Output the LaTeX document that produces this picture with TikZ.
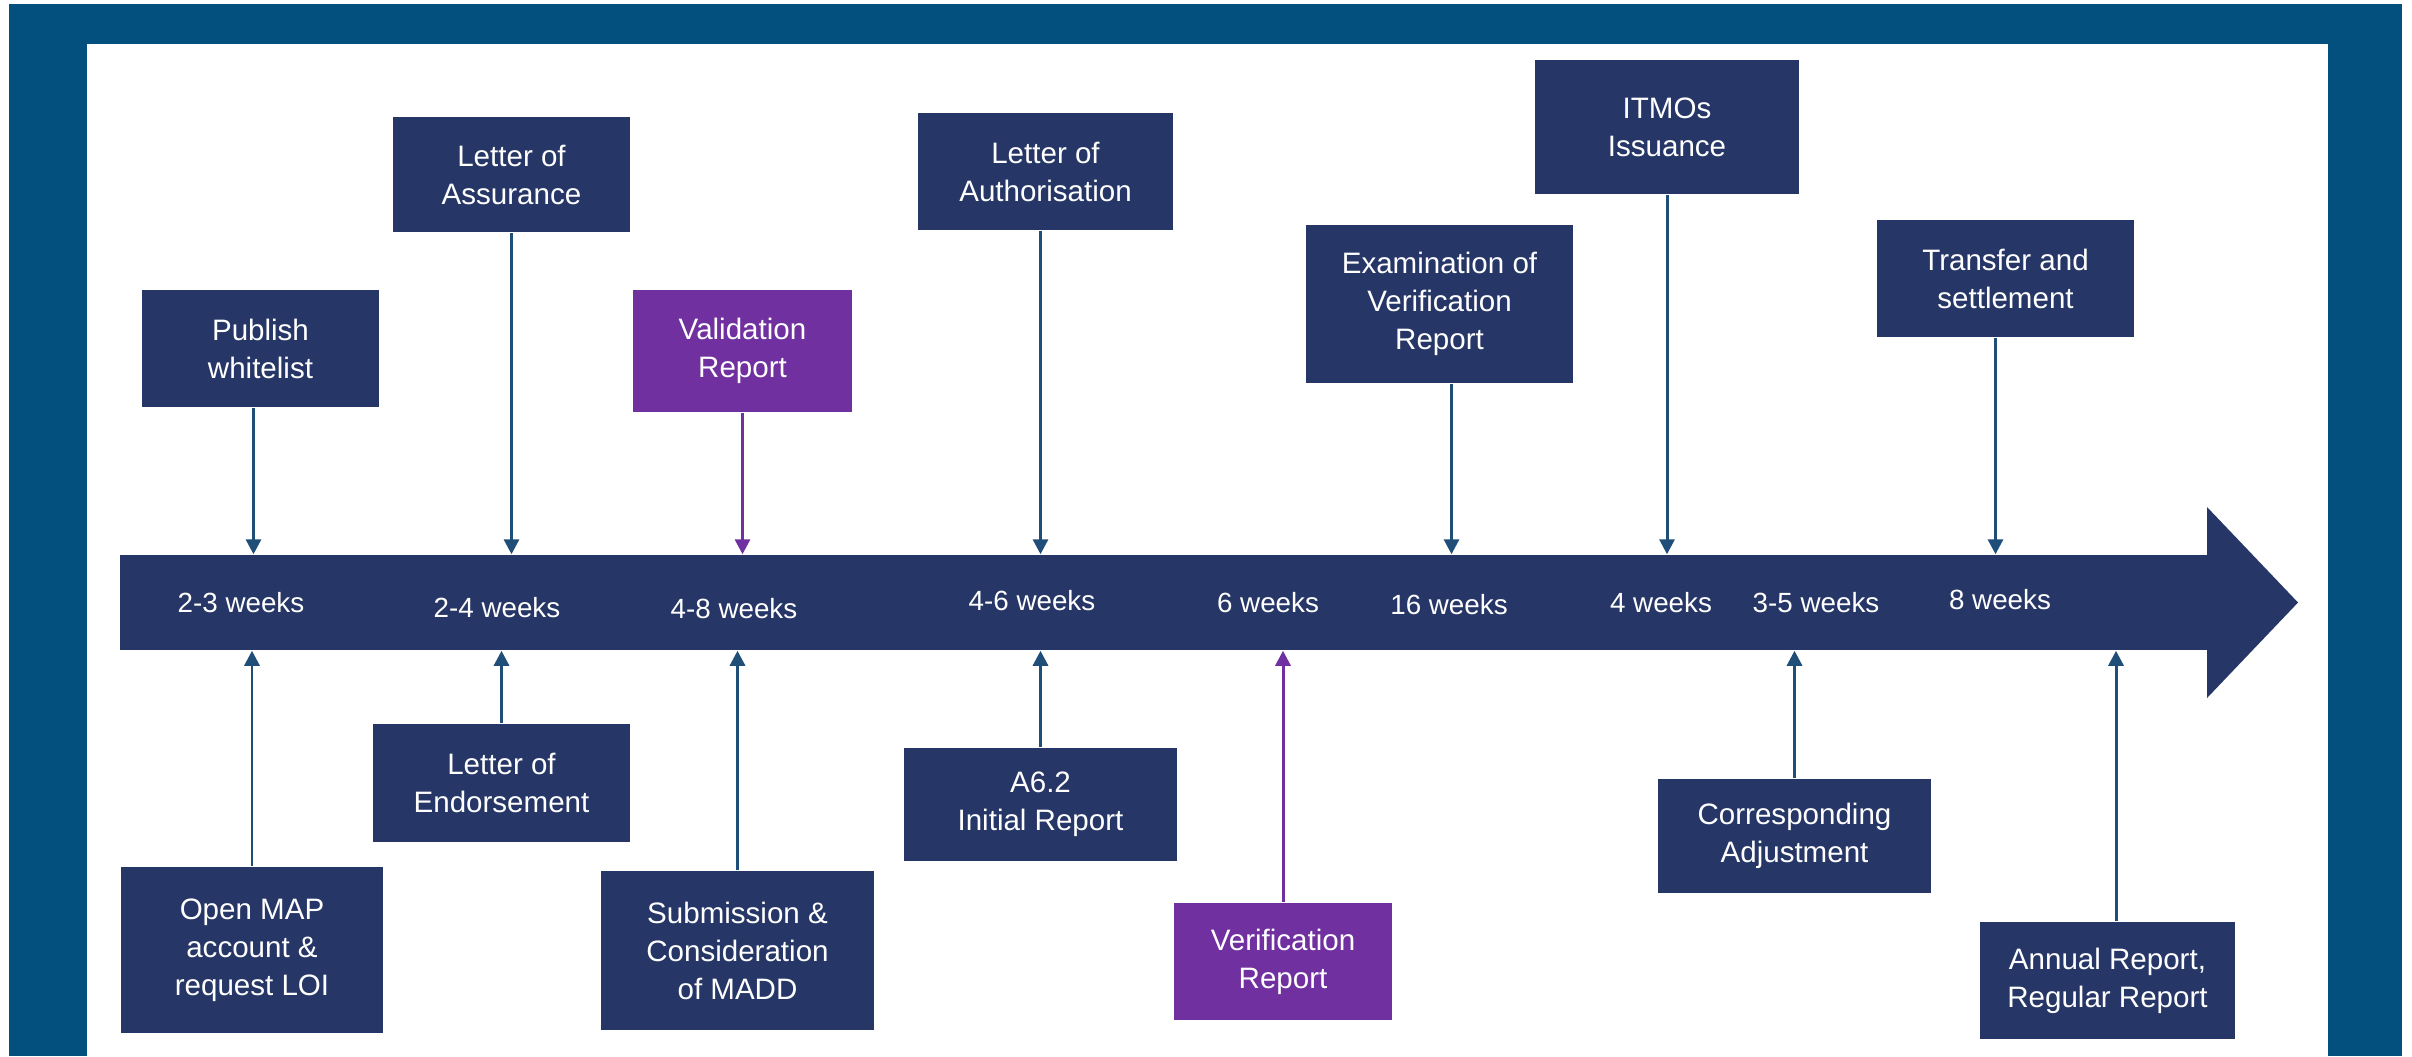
\documentclass[tikz,border=0pt]{standalone}
\usepackage{fontspec}
\setmainfont{Liberation Sans}
\usetikzlibrary{arrows.meta,positioning}
\definecolor{frameblue}{RGB}{3,80,126}
\definecolor{boxnavy}{RGB}{38,54,102}
\definecolor{boxpurple}{RGB}{112,48,160}
\definecolor{linkblue}{RGB}{31,78,121}
\begin{document}
\begin{tikzpicture}[x=0.01cm, y=-0.01cm,
    ev/.style={fill=boxnavy,text=white,align=center,inner sep=0pt,font=\fontsize{8.4}{10.8}\selectfont,minimum width=2.57cm,minimum height=1.17cm},
    evp/.style={ev,fill=boxpurple},
    wk/.style={text=white,inner sep=0pt,font=\fontsize{7.9}{9.5}\selectfont},
    lnk/.style={draw=linkblue,line width=0.85pt,-{Triangle[width=0.15cm,length=0.15cm]}},
    lnkp/.style={lnk,draw=boxpurple}]
              \useasboundingbox (0,0) rectangle (2412,1056);
              \fill[white] (0,0) rectangle (2412,1056);
              \fill[frameblue] (9,4) rectangle (2402,1056);
              \fill[white] (87,44) rectangle (2328,1056);

              \node[fill=boxnavy,inner sep=0pt,minimum width=20.87cm,minimum height=0.95cm] (band) at (1164.5,602.5) {};
              \fill[boxnavy] (2207,507) -- (2298,602.5) -- (2207,698) -- cycle;

              \node[wk] (w1) at (241,603) {2-3 weeks};
              \node[wk] (w2) at (497,608) {2-4 weeks};
              \node[wk] (w3) at (734,609) {4-8 weeks};
              \node[wk] (w4) at (1032,601) {4-6 weeks};
              \node[wk] (w5) at (1268,603) {6 weeks};
              \node[wk] (w6) at (1449,605) {16 weeks};
              \node[wk] (w7) at (1661,603) {4 weeks};
              \node[wk] (w8) at (1816,603) {3-5 weeks};
              \node[wk] (w9) at (2000,600) {8 weeks};

              \node[ev,minimum width=2.37cm] (pub) at (260.5,348.5) {Publish\\whitelist};
              \node[ev,minimum width=2.37cm,minimum height=1.15cm] (loa) at (511.5,174.5) {Letter of\\Assurance};
              \node[evp,minimum width=2.19cm,minimum height=1.22cm] (val) at (742.5,351) {Validation\\Report};
              \node[ev,minimum width=2.55cm] (auth) at (1045.5,171.5) {Letter of\\Authorisation};
              \node[ev,minimum width=2.67cm,minimum height=1.58cm] (exam) at (1439.5,304) {Examination of\\Verification\\Report};
              \node[ev,minimum width=2.64cm,minimum height=1.34cm] (itmo) at (1667,127) {ITMOs\\Issuance};
              \node[ev] (trans) at (2005.5,278.5) {Transfer and\\settlement};

              \node[ev,minimum width=2.62cm,minimum height=1.66cm] (open) at (252,950) {Open MAP\\account \&\\request LOI};
              \node[ev,minimum height=1.18cm] (endo) at (501.5,783) {Letter of\\Endorsement};
              \node[ev,minimum width=2.73cm,minimum height=1.59cm] (sub) at (737.5,950.5) {Submission \&\\Consideration\\of MADD};
              \node[ev,minimum width=2.73cm,minimum height=1.13cm] (a62) at (1040.5,804.5) {A6.2\\Initial Report};
              \node[evp,minimum width=2.18cm] (ver) at (1283,961.5) {Verification\\Report};
              \node[ev,minimum width=2.73cm,minimum height=1.14cm] (corr) at (1794.5,836) {Corresponding\\Adjustment};
              \node[ev,minimum width=2.55cm] (ann) at (2107.5,980.5) {Annual Report,\\Regular Report};

              \draw[lnk] ([xshift=-0.07cm]pub.south) -- ([xshift=-0.07cm]pub.south |- band.north);
              \draw[lnk] (loa) -- (loa |- band.north);
              \draw[lnkp] (val) -- (val |- band.north);
              \draw[lnk] ([xshift=-0.05cm]auth.south) -- ([xshift=-0.05cm]auth.south |- band.north);
              \draw[lnk] ([xshift=0.12cm]exam.south) -- ([xshift=0.12cm]exam.south |- band.north);
              \draw[lnk] (itmo) -- (itmo |- band.north);
              \draw[lnk] ([xshift=-0.1cm]trans.south) -- ([xshift=-0.1cm]trans.south |- band.north);

              \draw[lnk] (open) -- (open |- band.south);
              \draw[lnk] (endo) -- (endo |- band.south);
              \draw[lnk] (sub) -- (sub |- band.south);
              \draw[lnk] (a62) -- (a62 |- band.south);
              \draw[lnkp] (ver) -- (ver |- band.south);
              \draw[lnk] (corr) -- (corr |- band.south);
              \draw[lnk] ([xshift=0.085cm]ann.north) -- ([xshift=0.085cm]ann.north |- band.south);
            \end{tikzpicture}
\end{document}
